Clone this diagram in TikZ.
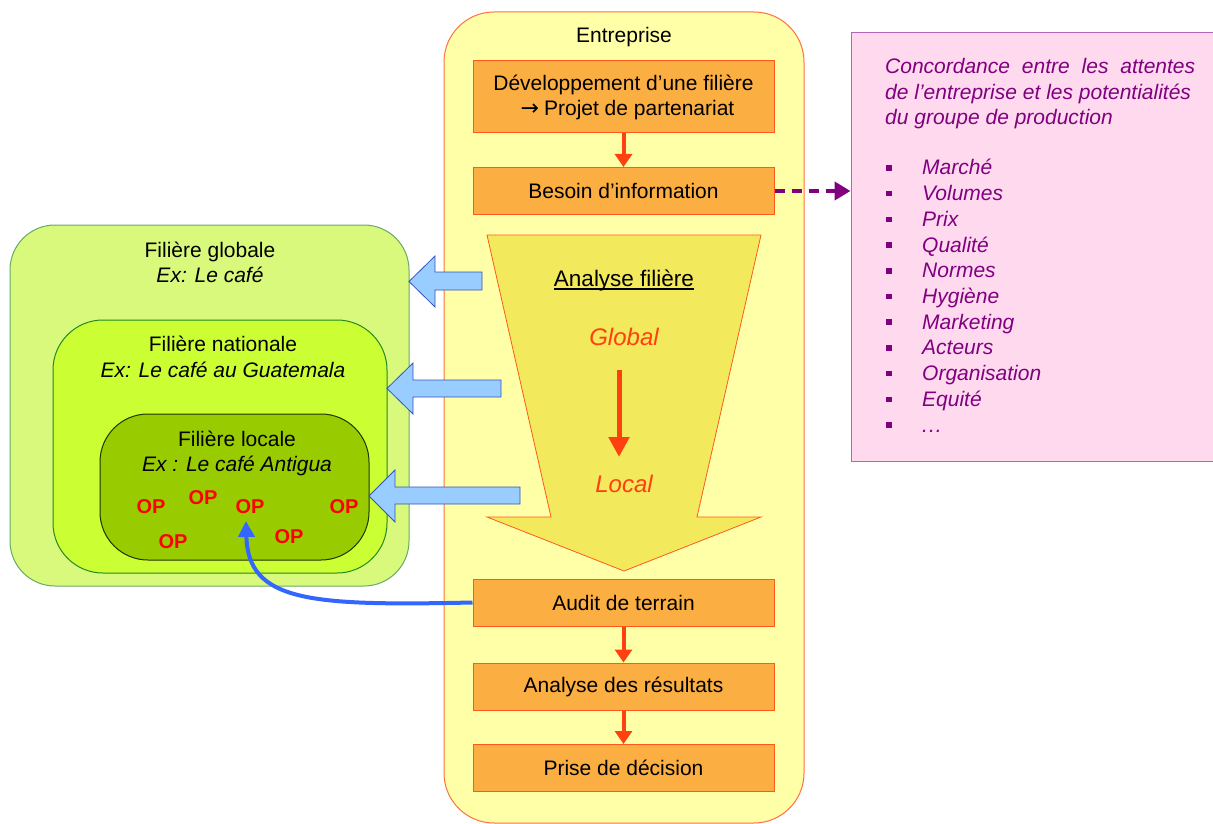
\documentclass[tikz,border=0pt]{standalone}
\usepackage{fontspec}
\setmainfont{Liberation Sans}
\newfontfamily\arrowfont{DejaVu Sans}
\usetikzlibrary{arrows.meta}
\definecolor{entfill}{HTML}{FFFFA8}
\definecolor{entdraw}{HTML}{FF7040}
\definecolor{orfill}{HTML}{FBAE42}
\definecolor{ordraw}{HTML}{FF5A1E}
\definecolor{funfill}{HTML}{F2E95C}
\definecolor{redarr}{HTML}{FF4010}
\definecolor{globfill}{HTML}{D9F97C}
\definecolor{globdraw}{HTML}{66AA66}
\definecolor{natfill}{HTML}{CCFF33}
\definecolor{natdraw}{HTML}{228822}
\definecolor{locfill}{HTML}{99CC00}
\definecolor{locdraw}{HTML}{223300}
\definecolor{pinkfill}{HTML}{FFD9EE}
\definecolor{pinkdraw}{HTML}{B366B3}
\definecolor{purp}{HTML}{800080}
\definecolor{bluefill}{HTML}{99CCFF}
\definecolor{bluedraw}{HTML}{3355BB}
\definecolor{bluecurve}{HTML}{3366FF}
\definecolor{opred}{HTML}{FF0000}
\tikzset{
  txt/.style={inner sep=0pt, text height=16pt, text depth=2pt, font=\fontsize{21}{25}\selectfont, text=black},
  stepbox/.style={draw=ordraw, fill=orfill, line width=1pt, minimum width=301pt, minimum height=47pt, inner sep=0pt, font=\fontsize{21}{25}\selectfont, align=center},
  redflow/.style={draw=redarr, line width=4pt, -{Triangle[length=13pt,width=17pt]}},
  blockarrow/.style={fill=bluefill, draw=bluedraw, line width=0.8pt},
  optext/.style={inner sep=0pt, font=\fontsize{20}{24}\selectfont\bfseries, text=opred},
  pinktxt/.style={inner sep=0pt, anchor=west, text height=16pt, text depth=2pt, font=\fontsize{21}{25}\selectfont\itshape, text=purp},
  bullet/.style={fill=purp, draw=none, minimum size=5.5pt, inner sep=0pt},
}
\begin{document}
\begin{tikzpicture}[x=1pt,y=-1pt]
\useasboundingbox (0,0) rectangle (1213,824);
% Entreprise container
\node[draw=entdraw, fill=entfill, line width=1pt, rounded corners=50pt, minimum width=360pt, minimum height=811pt, inner sep=0pt] (ent) at (624,417.5) {};
\node[txt] (entlbl) at (624,36) {Entreprise};
% steps
\node[stepbox, minimum height=72pt] (dev) at (623.5,97) {Développement d’une filière\\ \hspace*{8pt}{\arrowfont\fontsize{22}{25}\selectfont →}\hspace{5pt}Projet de partenariat};
\node[stepbox] (besoin) at (623.5,191) {Besoin d’information};
\node[stepbox] (audit) at (623.5,602.5) {Audit de terrain};
\node[stepbox] (res) at (623.5,686.5) {Analyse des résultats};
\node[stepbox] (dec) at (623.5,768) {Prise de décision};
\draw[redflow] (dev.south) -- (besoin.north);
\draw[redflow] (audit.south) -- (res.north);
\draw[redflow] (res.south) -- (dec.north);
% funnel arrow
\draw[fill=funfill, draw=ordraw, line width=0.8pt] (487,235) -- (761,235) -- (697,517) -- (761,517) -- (624,571) -- (487,517) -- (551,517) -- cycle;
\node[txt, font=\fontsize{22.5}{26}\selectfont] (af) at (624,279) {Analyse filière};
\draw[line width=1.2pt] ([yshift=-3pt]af.base west) -- ([yshift=-3pt]af.base east);
\node[txt, text=redarr, font=\fontsize{24}{28}\selectfont\itshape] (glob) at (624,338) {Global};
\node[txt, text=redarr, font=\fontsize{24}{28}\selectfont\itshape] (loc) at (624,485) {Local};
\coordinate (ga) at (619,370);
\coordinate (gb) at (619,457);
\draw[draw=redarr, line width=5pt, -{Triangle[length=20pt,width=20pt]}] (ga) -- (gb);
% pink box
\node[draw=pinkdraw, fill=pinkfill, line width=1pt, minimum width=365pt, minimum height=428pt, inner sep=0pt] (pink) at (1033.5,247) {};
\draw[draw=purp, line width=4.5pt, dash pattern=on 10pt off 7pt, -{Triangle[length=16pt,width=18pt]}] (besoin.east) -- (pink.west |- besoin.east);
\node[pinktxt] (h1) at (885,67) {\makebox[310pt][s]{Concordance entre les attentes}};
\node[pinktxt] (h2) at (885,93) {de l’entreprise et les potentialités};
\node[pinktxt] (h3) at (885,118) {du groupe de production};
\foreach \t [count=\i] in {Marché,Volumes,Prix,Qualité,Normes,Hygiène,Marketing,Acteurs,Organisation,Equité}{
  \pgfmathsetmacro{\yy}{168+(\i-1)*25.7}
  \node[bullet] (b\i) at (889,\yy) {};
  \node[pinktxt] (it\i) at (922,\yy) {\t};
}
\node[bullet] (b11) at (889,425) {};
\node[pinktxt] (it11) at (922,425) {.\kern1pt.\kern1pt.};
% green nested boxes
\node[draw=globdraw, fill=globfill, line width=1pt, rounded corners=45pt, minimum width=399pt, minimum height=361pt, inner sep=0pt] (fglob) at (209.5,405.5) {};
\node[draw=natdraw, fill=natfill, line width=1pt, rounded corners=50pt, minimum width=334pt, minimum height=253pt, inner sep=0pt] (fnat) at (220,446.5) {};
\node[draw=locdraw, fill=locfill, line width=1pt, rounded corners=48pt, minimum width=269pt, minimum height=146pt, inner sep=0pt] (floc) at (234.5,487) {};
\node[txt] (tg1) at (210,250) {Filière globale};
\node[txt, font=\fontsize{21}{25}\selectfont\itshape] (tg2) at (210,275) {Ex: Le café};
\node[txt] (tn1) at (223,344) {Filière nationale};
\node[txt, font=\fontsize{21}{25}\selectfont\itshape] (tn2) at (223,370) {Ex: Le café au Guatemala};
\node[txt] (tl1) at (237,439) {Filière locale};
\node[txt, font=\fontsize{21}{25}\selectfont\itshape] (tl2) at (237,464) {Ex : Le café Antigua};
\node[optext] (op1) at (151,507) {OP};
\node[optext] (op2) at (203,498) {OP};
\node[optext] (op3) at (250,507) {OP};
\node[optext] (op4) at (344,507) {OP};
\node[optext] (op5) at (173,542) {OP};
\node[optext] (op6) at (289,537) {OP};
% blue block arrows
\draw[blockarrow] (409,281.5) -- (435,256) -- (435,272) -- (482,272) -- (482,290) -- (435,290) -- (435,307) -- cycle;
\draw[blockarrow] (387,388.5) -- (413,363) -- (413,380) -- (501,380) -- (501,397) -- (413,397) -- (413,414) -- cycle;
\draw[blockarrow] (369,496) -- (395,470) -- (395,487) -- (520,487) -- (520,504) -- (395,504) -- (395,522) -- cycle;
% blue curved arrow
\draw[draw=bluecurve, line width=4pt, -{Triangle[length=16pt,width=16pt]}] (audit.west) .. controls (310,606) and (248,602) .. (246,521);
\end{tikzpicture}
\end{document}
